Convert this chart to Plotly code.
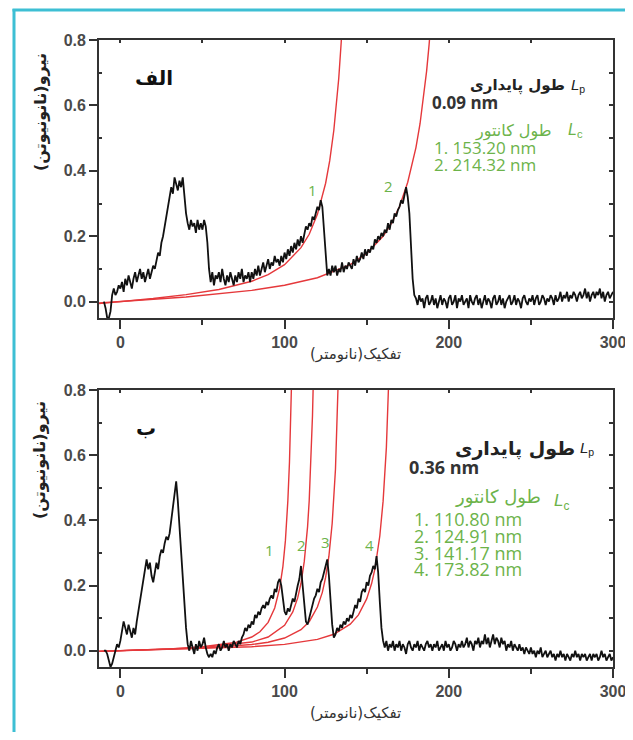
import plotly.graph_objects as go

# ---------------- data ----------------
# force traces: one reading per nm starting at -10 nm
x_start = -10
x_step = 1
force_a = [
    0.00, -0.02, -0.05, -0.05, -0.03, 0.02, 0.04, 0.02, 0.03, 0.05,
    0.04, 0.06, 0.03, 0.07, 0.05, 0.08, 0.06, 0.04, 0.07, 0.09,
    0.06, 0.08, 0.10, 0.07, 0.09, 0.06, 0.08, 0.10, 0.07, 0.09,
    0.11, 0.10, 0.13, 0.15, 0.14, 0.18, 0.20, 0.23, 0.26, 0.29,
    0.32, 0.35, 0.33, 0.38, 0.36, 0.34, 0.37, 0.35, 0.38, 0.32,
    0.27, 0.24, 0.22, 0.25, 0.23, 0.24, 0.21, 0.25, 0.22, 0.24,
    0.22, 0.25, 0.23, 0.18, 0.10, 0.06, 0.09, 0.05, 0.08, 0.07,
    0.09, 0.06, 0.10, 0.07, 0.05, 0.08, 0.06, 0.09, 0.07, 0.05,
    0.08, 0.06, 0.09, 0.07, 0.10, 0.06, 0.08, 0.07, 0.09, 0.06,
    0.09, 0.07, 0.10, 0.08, 0.11, 0.08, 0.10, 0.12, 0.09, 0.11,
    0.13, 0.10, 0.12, 0.11, 0.14, 0.12, 0.13, 0.11, 0.14, 0.12,
    0.15, 0.13, 0.16, 0.14, 0.17, 0.15, 0.18, 0.16, 0.19, 0.17,
    0.20, 0.18, 0.21, 0.23, 0.22, 0.24, 0.23, 0.26, 0.25, 0.27,
    0.29, 0.28, 0.31, 0.29, 0.22, 0.12, 0.08, 0.10, 0.08, 0.11,
    0.09, 0.11, 0.08, 0.10, 0.09, 0.12, 0.09, 0.11, 0.10, 0.12,
    0.11, 0.10, 0.13, 0.11, 0.14, 0.12, 0.13, 0.15, 0.13, 0.16,
    0.14, 0.16, 0.15, 0.17, 0.16, 0.19, 0.18, 0.20, 0.19, 0.21,
    0.20, 0.22, 0.21, 0.24, 0.22, 0.25, 0.24, 0.27, 0.26, 0.28,
    0.29, 0.31, 0.30, 0.33, 0.35, 0.32, 0.27, 0.17, 0.07, 0.02,
    0.01, -0.01, 0.02, 0.00, 0.01, -0.02, 0.01, 0.02, -0.01, 0.00,
    0.02, -0.01, 0.01, -0.02, 0.00, 0.02, -0.01, 0.01, 0.00, -0.02,
    0.01, 0.02, -0.01, 0.00, 0.02, -0.02, 0.01, 0.00, 0.02, -0.01,
    0.00, 0.01, -0.02, 0.02, 0.00, -0.01, 0.01, 0.02, -0.01, 0.01,
    -0.02, 0.00, 0.02, -0.01, 0.01, 0.00, -0.02, 0.01, 0.02, -0.01,
    0.00, 0.02, -0.01, 0.01, -0.02, 0.00, 0.01, 0.02, -0.01, 0.00,
    0.02, -0.01, 0.01, 0.00, -0.02, 0.01, 0.02, 0.00, -0.01, 0.01,
    0.00, 0.02, -0.01, 0.01, 0.02, -0.01, 0.00, 0.02, 0.01, -0.01,
    0.01, 0.00, 0.02, 0.01, -0.01, 0.02, 0.00, 0.01, 0.03, 0.00,
    0.02, 0.01, 0.03, 0.00, 0.02, 0.01, 0.03, 0.02, 0.00, 0.02,
    0.03, 0.01, 0.02, 0.04, 0.01, 0.03, 0.00, 0.02, 0.03, 0.01,
    0.03, 0.02, 0.04, 0.01, 0.03, 0.00, 0.02, 0.03, 0.01, 0.02,
    0.03,
]
force_b = [
    0.00, 0.00, -0.01, -0.03, -0.05, -0.04, -0.02, 0.00, 0.02, 0.01,
    0.03, 0.06, 0.09, 0.07, 0.05, 0.08, 0.06, 0.04, 0.07, 0.05,
    0.09, 0.12, 0.15, 0.18, 0.21, 0.24, 0.28, 0.25, 0.27, 0.23,
    0.21, 0.24, 0.27, 0.25, 0.29, 0.31, 0.30, 0.33, 0.35, 0.34,
    0.36, 0.40, 0.44, 0.48, 0.52, 0.46, 0.38, 0.30, 0.22, 0.14,
    0.07, 0.02, 0.00, 0.03, 0.01, -0.01, 0.02, 0.00, 0.03, 0.01,
    0.02, 0.04, 0.01, -0.01, -0.02, -0.01, -0.02, 0.00, -0.01, 0.01,
    0.02, 0.00, 0.01, 0.03, 0.01, 0.02, 0.00, 0.02, 0.01, 0.03,
    0.02, 0.01, 0.03, 0.02, 0.04, 0.05, 0.07, 0.06, 0.08, 0.07,
    0.09, 0.08, 0.11, 0.10, 0.12, 0.11, 0.13, 0.14, 0.13, 0.15,
    0.14, 0.16, 0.17, 0.16, 0.19, 0.18, 0.21, 0.22, 0.20, 0.15,
    0.12, 0.11, 0.13, 0.12, 0.14, 0.16, 0.15, 0.18, 0.20, 0.22,
    0.26, 0.20, 0.14, 0.09, 0.08, 0.10, 0.12, 0.14, 0.16, 0.17,
    0.19, 0.18, 0.21, 0.22, 0.24, 0.26, 0.28, 0.23, 0.15, 0.08,
    0.04, 0.05, 0.07, 0.06, 0.08, 0.07, 0.09, 0.08, 0.10, 0.09,
    0.11, 0.10, 0.12, 0.14, 0.13, 0.16, 0.15, 0.18, 0.19, 0.18,
    0.21, 0.20, 0.23, 0.24, 0.26, 0.25, 0.29, 0.24, 0.15, 0.07,
    0.03, 0.01, 0.03, 0.00, 0.02, 0.01, 0.03, 0.00, 0.02, 0.01,
    0.03, 0.00, 0.02, 0.01, -0.01, 0.02, 0.03, 0.01, 0.00, 0.02,
    0.01, 0.03, 0.00, 0.02, 0.01, 0.00, 0.02, 0.03, 0.01, 0.02,
    0.00, 0.02, 0.01, 0.03, 0.00, 0.01, 0.02, 0.00, 0.03, 0.01,
    0.02, 0.00, 0.01, 0.03, 0.02, 0.00, 0.02, 0.01, 0.03, 0.01,
    0.02, 0.04, 0.01, 0.03, 0.02, 0.00, 0.03, 0.02, 0.04, 0.01,
    0.03, 0.02, 0.05, 0.02, 0.04, 0.01, 0.03, 0.05, 0.02, 0.04,
    0.03, 0.01, 0.04, 0.02, 0.03, 0.00, 0.02, 0.01, 0.03, 0.00,
    0.02, 0.01, 0.00, 0.02, 0.00, 0.01, -0.01, 0.01, 0.00, -0.01,
    0.01, -0.01, 0.00, -0.02, 0.00, -0.01, 0.01, -0.02, -0.01, 0.00,
    -0.02, -0.01, 0.00, -0.02, -0.01, -0.03, -0.01, -0.02, 0.00, -0.02,
    -0.01, -0.03, -0.01, -0.02, -0.03, -0.01, -0.02, 0.00, -0.02, -0.01,
    -0.03, -0.01, -0.02, -0.01, -0.03, -0.02, -0.01, -0.03, -0.01, -0.02,
    -0.01, -0.03, -0.02, 0.00, -0.02, -0.01, -0.03, -0.02, -0.01, -0.03,
    -0.02,
]

# WLC fit curves, panel الف
fit_a1_x = [-13, 0, 20, 40, 60, 80, 90, 100, 110, 115, 120, 125, 127.5, 130, 131.5, 133, 134.5, 136]
fit_a1_y = [-0.006, 0, 0.0096, 0.0214, 0.0373, 0.0623, 0.0824, 0.113, 0.165, 0.206, 0.267, 0.362, 0.431, 0.524, 0.596, 0.683, 0.794, 0.933]
fit_a2_x = [-13, 0, 40, 80, 100, 120, 140, 150, 160, 165, 170, 175, 180, 182.5, 185, 186.5, 188, 190]
fit_a2_y = [-0.004, 0, 0.0143, 0.0346, 0.050, 0.073, 0.113, 0.147, 0.200, 0.239, 0.291, 0.365, 0.471, 0.544, 0.637, 0.705, 0.785, 0.914]

# WLC fit curves, panel ب
fit_b1_x = [-13, 0, 30, 50, 70, 80, 85, 90, 94, 97, 99, 100.5, 102, 103, 104, 104.6]
fit_b1_y = [-0.002, 0, 0.0056, 0.012, 0.025, 0.042, 0.058, 0.087, 0.131, 0.191, 0.259, 0.337, 0.46, 0.58, 0.764, 0.89]
fit_b2_x = [-13, 0, 30, 50, 80, 90, 100, 105, 108, 110, 112, 114, 115, 116, 117, 117.8]
fit_b2_y = [-0.002, 0, 0.0048, 0.0096, 0.0265, 0.042, 0.078, 0.119, 0.162, 0.207, 0.274, 0.38, 0.46, 0.57, 0.72, 0.89]
fit_b3_x = [-13, 0, 30, 50, 80, 90, 100, 110, 115, 120, 123, 125, 127, 129, 131, 132.5, 133.3]
fit_b3_y = [-0.002, 0, 0.0042, 0.008, 0.019, 0.026, 0.039, 0.0645, 0.089, 0.134, 0.179, 0.225, 0.29, 0.391, 0.557, 0.764, 0.93]
fit_b4_x = [-13, 0, 30, 50, 80, 100, 120, 130, 140, 145, 150, 153, 155, 158, 160, 162, 163.5, 164.2]
fit_b4_y = [-0.002, 0, 0.0033, 0.006, 0.0122, 0.0195, 0.0348, 0.0505, 0.0816, 0.110, 0.159, 0.206, 0.25, 0.352, 0.459, 0.624, 0.816, 0.94]

lp_a = "0.09 nm"
lc_a = ["1. 153.20 nm", "2. 214.32 nm"]
lp_b = "0.36 nm"
lc_b = ["1. 110.80 nm", "2. 124.91 nm", "3. 141.17 nm", "4. 173.82 nm"]
peak_labels_a = ["1", "2"]
peak_pos_a = [(117, 0.342), (163, 0.354)]
peak_labels_b = ["1", "2", "3", "4"]
peak_pos_b = [(90.9, 0.308), (110.4, 0.324), (125.0, 0.333), (151.8, 0.324)]

x_range = [-13, 300]
y_range = [-0.05, 0.8]

# ---------------- figure ----------------
# page body has an 8px margin, so the figure is 16px smaller than the window
W, H = 617, 724
ML, MR, MT, MB = 91, 12, 32, 65
PW, PH = W - ML - MR, H - MT - MB

def px(xs):  # window pixel -> paper x
    return (xs - 8 - ML) / PW

def py(ys):  # window pixel -> paper y
    return (H - MB - (ys - 8)) / PH

RED = "#e5383b"
GREEN = "#6cb34a"
AR = "DejaVu Sans"
NUM = "Open Sans"

fig = go.Figure()

def add_trace(vals, xa, ya):
    xs = [x_start + x_step * i for i in range(len(vals))]
    fig.add_trace(go.Scatter(x=xs, y=vals, mode="lines", xaxis=xa, yaxis=ya,
                             line=dict(color="#111111", width=1.8), showlegend=False))

def add_fit(xs, ys, xa, ya):
    fig.add_trace(go.Scatter(x=xs, y=ys, mode="lines", xaxis=xa, yaxis=ya,
                             line=dict(color=RED, width=1.4), showlegend=False))

for fx, fy in [(fit_a1_x, fit_a1_y), (fit_a2_x, fit_a2_y)]:
    add_fit(fx, fy, "x", "y")
add_trace(force_a, "x", "y")
for fx, fy in [(fit_b1_x, fit_b1_y), (fit_b2_x, fit_b2_y), (fit_b3_x, fit_b3_y), (fit_b4_x, fit_b4_y)]:
    add_fit(fx, fy, "x2", "y2")
add_trace(force_b, "x2", "y2")
# invisible traces to anchor the mirrored frame axes
fig.add_trace(go.Scatter(x=[None], y=[None], xaxis="x3", yaxis="y3", showlegend=False))
fig.add_trace(go.Scatter(x=[None], y=[None], xaxis="x4", yaxis="y4", showlegend=False))

dom_a = [py(318), py(40)]
dom_b = [py(667), py(390)]

tickfont = dict(family="Liberation Sans", size=16, color="#4a4a4a", weight="bold")
axcol = "#333333"

def xax(anchor):
    return dict(range=x_range, domain=[0, 1], anchor=anchor, showgrid=False, zeroline=False,
                automargin=False, ticklabeloverflow="allow",
                showline=True, linecolor=axcol, linewidth=1.8,
                ticks="outside", ticklen=9, tickwidth=1.8, tickcolor=axcol,
                tickvals=[0, 100, 200, 300], tickfont=tickfont,
                minor=dict(ticks="outside", ticklen=5, tickwidth=1.5, tickcolor=axcol,
                           tickvals=[50, 150, 250]))

def yax(anchor, dom):
    return dict(range=y_range, domain=dom, anchor=anchor, showgrid=False, zeroline=False,
                automargin=False, ticklabeloverflow="allow",
                showline=True, linecolor=axcol, linewidth=1.8,
                ticks="outside", ticklen=8, tickwidth=1.8, tickcolor=axcol,
                tickvals=[0, 0.2, 0.4, 0.6, 0.8], ticktext=["0.0", "0.2", "0.4", "0.6", "0.8"],
                tickfont=tickfont,
                minor=dict(ticks="inside", ticklen=3, tickwidth=2, tickcolor=axcol,
                           tickvals=[0.1, 0.3, 0.5, 0.7]))

def xtop(anchor, over):
    return dict(range=x_range, domain=[0, 1], anchor=anchor, overlaying=over, side="top",
                automargin=False,
                showgrid=False, zeroline=False, showline=True, linecolor=axcol, linewidth=1.8,
                ticks="inside", ticklen=3, tickwidth=2, tickcolor=axcol,
                tickvals=[0, 50, 100, 150, 200, 250, 300], showticklabels=False)

def yright(anchor, over, dom):
    return dict(range=y_range, domain=dom, anchor=anchor, overlaying=over, side="right",
                automargin=False,
                showgrid=False, zeroline=False, showline=True, linecolor=axcol, linewidth=1.8,
                ticks="inside", ticklen=4, tickwidth=1.6, tickcolor=axcol,
                tickvals=[0, 0.1, 0.2, 0.3, 0.4, 0.5, 0.6, 0.7, 0.8], showticklabels=False)

fig.update_layout(
    width=W, height=H, margin=dict(l=ML, r=MR, t=MT, b=MB, autoexpand=False),
    paper_bgcolor="white", plot_bgcolor="white",
    xaxis=xax("y"), yaxis=yax("x", dom_a),
    xaxis2=xax("y2"), yaxis2=yax("x2", dom_b),
    xaxis3=xtop("y3", "x"), yaxis3=yright("x3", "y", dom_a),
    xaxis4=xtop("y4", "x2"), yaxis4=yright("x4", "y2", dom_b),
)

ann = []
def A(text, x, y, xref, yref, size, color, xanchor="center", yanchor="middle", **kw):
    ann.append(dict(text=text, x=x, y=y, xref=xref, yref=yref, showarrow=False,
                    xanchor=xanchor, yanchor=yanchor,
                    font=dict(size=size, color=color, family=kw.pop("family", AR),
                              weight=kw.pop("weight", "normal")), **kw))

# axis titles
for ycen in [112, 460]:
    A("نیرو(نانونیوتن)", px(40), py(ycen), "paper", "paper", 16, "#222222", textangle=-90, weight="bold")
A("تفکیک(نانومتر)", px(355), py(354), "paper", "paper", 15, "#333333")
A("تفکیک(نانومتر)", px(355), py(713), "paper", "paper", 15, "#333333")

# panel letters
A("الف", 20.7, 0.684, "x", "y", 20, "#111111", weight="bold")
A("ب", 15.9, 0.684, "x2", "y2", 20, "#111111", weight="bold")

# panel الف legend text
A("طول پایداری", 272, 0.66, "x", "y", 15, "#222222", xanchor="right", weight="bold")
A("<i>L</i><sub>p</sub>", 273.5, 0.66, "x", "y", 15, "#222222", xanchor="left", family="Liberation Sans")
A(lp_a, 188.4, 0.61, "x", "y", 17, "#333333", xanchor="left", family=NUM, weight="bold")
A("طول کانتور", 263.4, 0.522, "x", "y", 16, GREEN, xanchor="right")
A("<i>L</i><sub>c</sub>", 271.3, 0.522, "x", "y", 16, GREEN, xanchor="left", family="Liberation Sans")
for i, t in enumerate(lc_a):
    A(t, 189.6, 0.47 - 0.052 * i, "x", "y", 17, GREEN, xanchor="left", family=NUM)
for t, (xx, yy) in zip(peak_labels_a, peak_pos_a):
    A(t, xx, yy, "x", "y", 15, GREEN, family=NUM)

# panel ب legend text
A("طول پایداری", 278, 0.62, "x2", "y2", 19, "#222222", xanchor="right", weight="bold")
A("<i>L</i><sub>p</sub>", 278.7, 0.62, "x2", "y2", 15, "#222222", xanchor="left", family="Liberation Sans")
A(lp_b, 174.4, 0.565, "x2", "y2", 18, "#333333", xanchor="left", family=NUM, weight="bold")
A("طول کانتور", 257.3, 0.473, "x2", "y2", 18, GREEN, xanchor="right")
A("<i>L</i><sub>c</sub>", 262.8, 0.455, "x2", "y2", 17, GREEN, xanchor="left", family="Liberation Sans")
for i, t in enumerate(lc_b):
    A(t, 177.4, 0.403 - 0.051 * i, "x2", "y2", 18, GREEN, xanchor="left", family=NUM)
for t, (xx, yy) in zip(peak_labels_b, peak_pos_b):
    A(t, xx, yy, "x2", "y2", 15, GREEN, family=NUM)

fig.update_layout(annotations=ann)

# teal frame
TEAL = "#3dbfd4"
fig.add_shape(type="line", xref="paper", yref="paper", x0=px(14), x1=px(14), y0=py(9), y1=py(760),
              line=dict(color=TEAL, width=3))
fig.add_shape(type="line", xref="paper", yref="paper", x0=px(12.5), x1=px(650), y0=py(10), y1=py(10),
              line=dict(color=TEAL, width=3))

fig.write_html("out.html")
